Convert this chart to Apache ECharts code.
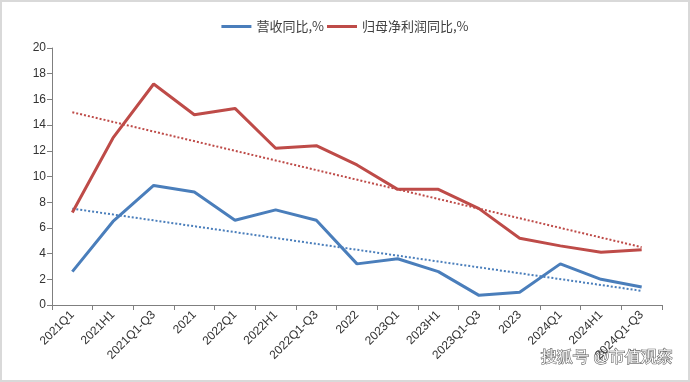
<!DOCTYPE html>
<html><head><meta charset="utf-8">
<script src="https://cdn.jsdelivr.net/npm/echarts@6/dist/echarts.min.js"></script>
<style>html,body{margin:0;padding:0;background:#fff}#c{width:690px;height:382px;box-sizing:border-box;border:2px solid #d9d9d9}</style>
</head><body><div id="c"></div>
<script>
var categories = ['2021Q1','2021H1','2021Q1-Q3','2021','2022Q1','2022H1','2022Q1-Q3','2022','2023Q1','2023H1','2023Q1-Q3','2023','2024Q1','2024H1','2024Q1-Q3'];
var revenueYoY = [2.6, 6.5, 9.3, 8.8, 6.6, 7.4, 6.6, 3.2, 3.6, 2.6, 0.75, 1.0, 3.2, 2.0, 1.4];
var profitYoY = [7.2, 13.0, 17.2, 14.8, 15.3, 12.2, 12.4, 10.9, 9.0, 9.0, 7.5, 5.2, 4.6, 4.1, 4.3];
var revenueTrendEnds = [7.5, 1.1];
var profitTrendEnds = [15.0, 4.5];
var yTicks = [0, 2, 4, 6, 8, 10, 12, 14, 16, 18, 20];

var chart = echarts.init(document.getElementById('c'));
var first = categories[0], last = categories[categories.length - 1];
chart.setOption({
  animation: false,
  legend: {
    top: 13, left: 'center', icon: 'rect', itemWidth: 30, itemHeight: 3, itemGap: 3,
    textStyle: {fontSize: 13, color: '#404040', fontFamily: 'Noto Sans CJK SC'},
    data: ['营收同比,%', '归母净利润同比,%']
  },
  grid: {left: 50, right: 26, top: 46, bottom: 75},
  xAxis: {
    type: 'category', data: categories, boundaryGap: true,
    axisLine: {lineStyle: {color: '#7f7f7f', width: 1}},
    axisTick: {show: true, interval: 0, length: 5, lineStyle: {color: '#7f7f7f'}},
    axisLabel: {interval: 0, rotate: 45, fontSize: 12, color: '#333', margin: 8, fontFamily: 'Liberation Sans'}
  },
  yAxis: {
    type: 'value', min: yTicks[0], max: yTicks[yTicks.length - 1], interval: 2,
    axisLine: {show: true, lineStyle: {color: '#7f7f7f'}},
    axisTick: {show: true, length: 5, lineStyle: {color: '#7f7f7f'}},
    splitLine: {show: false},
    axisLabel: {fontSize: 12, color: '#333', margin: 6, fontFamily: 'Liberation Sans'}
  },
  series: [
    {name: '营收同比,%', type: 'line', data: revenueYoY, symbol: 'none',
     lineStyle: {color: '#4a7ebb', width: 3}, itemStyle: {color: '#4a7ebb'}},
    {name: '归母净利润同比,%', type: 'line', data: profitYoY, symbol: 'none',
     lineStyle: {color: '#be4b48', width: 3}, itemStyle: {color: '#be4b48'}},
    {name: 'revTrend', type: 'line', data: [[first, revenueTrendEnds[0]], [last, revenueTrendEnds[1]]], symbol: 'none',
     lineStyle: {color: '#4a7ebb', width: 2, type: [2, 2]}, z: 1},
    {name: 'profTrend', type: 'line', data: [[first, profitTrendEnds[0]], [last, profitTrendEnds[1]]], symbol: 'none',
     lineStyle: {color: '#be4b48', width: 2, type: [2, 2]}, z: 1}
  ],
  graphic: [{
    type: 'text', right: 14, bottom: 14,
    style: {text: '搜狐号 @市值观察', fontSize: 16, fill: '#fff', stroke: '#666', lineWidth: 1.2,
            font: 'italic 16px "Noto Sans CJK SC"'}
  }]
});
</script></body></html>
